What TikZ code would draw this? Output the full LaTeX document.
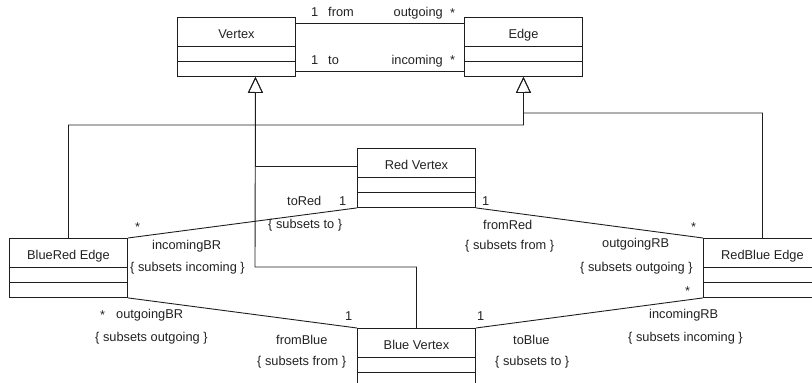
\documentclass[tikz,border=0pt]{standalone}
\usepackage{fontspec}
\setmainfont{Liberation Sans}
\usepackage{tikz}
\usetikzlibrary{arrows.meta,positioning,calc}
\definecolor{umlLine}{HTML}{1E1E1E}
\definecolor{umlText}{HTML}{222222}
\tikzset{
  umlcls/.style={draw=umlLine,line width=0.9pt,anchor=north west,inner sep=0pt,
              minimum width=118pt,text height=21pt,text depth=38pt,align=center,
              text=umlText,font=\fontsize{12.8}{14}\selectfont,
              path picture={
                \draw[umlLine,line width=0.9pt] ([yshift=-28.5pt]path picture bounding box.north west) -- ([yshift=-28.5pt]path picture bounding box.north east);
                \draw[umlLine,line width=0.9pt] ([yshift=-44pt]path picture bounding box.north west) -- ([yshift=-44pt]path picture bounding box.north east);
              }},
  umlassoc/.style={draw=umlLine,line width=0.9pt},
  umlgen/.style={draw=umlLine,line width=0.9pt,-{Triangle[open,length=16pt,width=15pt]}},
  umllbl/.style={text=umlText,font=\fontsize{12.8}{14}\selectfont,inner sep=0pt,anchor=base west},
}
\begin{document}
\begin{tikzpicture}[x=1pt,y=-1pt]
  \useasboundingbox (0,0) rectangle (812,383);

  % classes
  \node[umlcls] (V) at (177,17) {Vertex};
  \node[umlcls] (E) at (464,17) {Edge};
  \node[umlcls] (RV) at (357,148) {Red Vertex};
  \node[umlcls] (BV) at (357,328) {Blue Vertex};
  \node[umlcls] (BRE) at (9,238) {BlueRed Edge};
  \node[umlcls] (RBE) at (703,238) {RedBlue Edge};

  % junctions of the generalization lines
  \coordinate (vjoin) at (255,267);
  \coordinate (ejoinL) at (523.5,125);
  \coordinate (ejoinR) at (523.5,113);

  % associations
  \draw[umlassoc] ([yshift=-6pt]V.north east) -- ([yshift=-6pt]E.north west);
  \draw[umlassoc] ([yshift=5pt]V.south east) -- ([yshift=5pt]E.south west);
  \draw[umlassoc] (RV.south west) -- (BRE.north east);
  \draw[umlassoc] (RV.south east) -- (RBE.north west);
  \draw[umlassoc] (BRE.south east) -- (BV.north west);
  \draw[umlassoc] (BV.north east) -- (RBE.south west);

  % generalizations
  \draw[umlgen] ([yshift=-18pt]RV.north west) -| ([xshift=19pt]V.south);
  \draw[umlgen] (BV.north) |- (vjoin) -- ([xshift=19pt]V.south);
  \draw[umlgen] (BRE.north) |- (ejoinL) -- (E.south);
  \draw[umlgen] (RBE.north) |- (ejoinR) -- (E.south);

  % Vertex -- Edge ends
  \node[umllbl] (fromM) at (311,16) {1};
  \node[umllbl] (fromR) at (328,16) {from};
  \node[umllbl,anchor=base east] (outR) at (443,16) {outgoing};
  \node[umllbl] (outM) at (450,17) {*};
  \node[umllbl] (toM) at (311,64) {1};
  \node[umllbl] (toR) at (328,64) {to};
  \node[umllbl,anchor=base east] (inR) at (443,64) {incoming};
  \node[umllbl] (inM) at (450,64) {*};

  % Red Vertex -- BlueRed Edge
  \node[umllbl] (toRedR) at (287,205) {toRed};
  \node[umllbl] (toRedM) at (339,205) {1};
  \node[umllbl] (toRedC) at (268,228) {\{ subsets to \}};
  \node[umllbl] (inBRM) at (135,231) {*};
  \node[umllbl] (inBRR) at (152,249) {incomingBR};
  \node[umllbl] (inBRC) at (130,271) {\{ subsets incoming \}};

  % Red Vertex -- RedBlue Edge
  \node[umllbl] (fromRedM) at (482,205) {1};
  \node[umllbl] (fromRedR) at (483,229) {fromRed};
  \node[umllbl] (fromRedC) at (465,249) {\{ subsets from \}};
  \node[umllbl] (outRBM) at (691,231) {*};
  \node[umllbl] (outRBR) at (602,247) {outgoingRB};
  \node[umllbl] (outRBC) at (580,271) {\{ subsets outgoing \}};

  % BlueRed Edge -- Blue Vertex
  \node[umllbl] (outBRM) at (100,319) {*};
  \node[umllbl] (outBRR) at (116,318) {outgoingBR};
  \node[umllbl] (outBRC) at (95,341) {\{ subsets outgoing \}};
  \node[umllbl] (fromBlueM) at (345,320) {1};
  \node[umllbl] (fromBlueR) at (276,344) {fromBlue};
  \node[umllbl] (fromBlueC) at (257,365) {\{ subsets from \}};

  % Blue Vertex -- RedBlue Edge
  \node[umllbl] (toBlueM) at (477,320) {1};
  \node[umllbl] (toBlueR) at (513,344) {toBlue};
  \node[umllbl] (toBlueC) at (495,365) {\{ subsets to \}};
  \node[umllbl] (inRBM) at (685,295) {*};
  \node[umllbl] (inRBR) at (649,318) {incomingRB};
  \node[umllbl] (inRBC) at (628,341) {\{ subsets incoming \}};
\end{tikzpicture}
\end{document}
